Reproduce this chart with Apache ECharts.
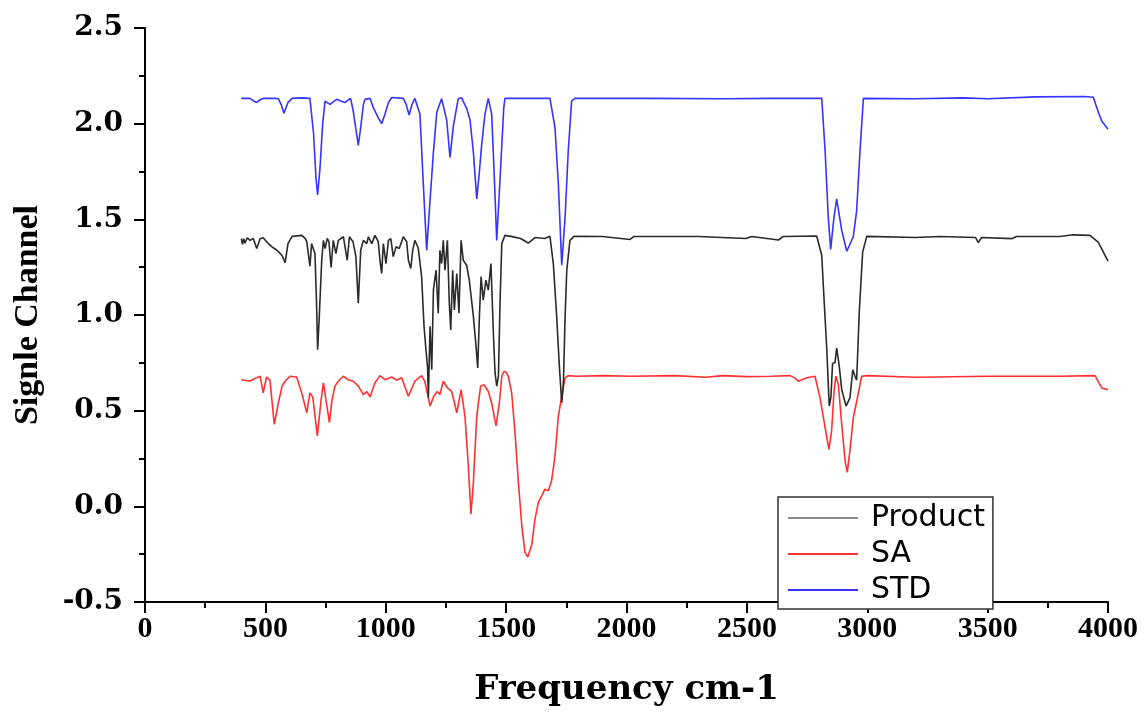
<!DOCTYPE html>
<html>
<head>
<meta charset="utf-8">
<script src="https://cdn.jsdelivr.net/npm/echarts@6/dist/echarts.min.js"></script>
<style>html,body{margin:0;padding:0;background:#fff;}#c{width:1145px;height:712px;}</style>
</head>
<body>
<div id="c"></div>
<script>
const seriesNames = ['Product', 'SA', 'STD'];

const productData = [[400,1.399],[405,1.37],[410,1.399],[415,1.375],[425,1.404],[436,1.39],[450,1.40],[464,1.347],[478,1.399],[491,1.404],[505,1.383],[526,1.357],[540,1.345],[554,1.331],[570,1.31],[582,1.274],[594,1.373],[611,1.411],[651,1.416],[665,1.40],[672,1.383],[685,1.255],[692,1.373],[697,1.38],[706,1.321],[713,1.04],[717,0.818],[720,0.82],[724,0.993],[734,1.286],[741,1.39],[748,1.347],[757,1.40],[764,1.383],[773,1.248],[782,1.39],[793,1.321],[803,1.39],[824,1.409],[840,1.286],[849,1.409],[864,1.383],[876,1.305],[886,1.061],[896,1.338],[907,1.39],[921,1.373],[928,1.409],[942,1.373],[955,1.416],[969,1.383],[976,1.286],[983,1.217],[990,1.373],[1001,1.269],[1011,1.39],[1021,1.399],[1031,1.305],[1043,1.357],[1056,1.347],[1073,1.409],[1087,1.383],[1094,1.286],[1104,1.243],[1112,1.338],[1121,1.39],[1135,1.35],[1149,1.201],[1159,0.941],[1167,0.818],[1174,0.723],[1177,0.567],[1184,0.941],[1191,0.714],[1198,1.13],[1209,1.234],[1218,1.009],[1225,1.338],[1232,1.269],[1239,1.39],[1246,1.234],[1256,1.39],[1264,1.061],[1270,0.922],[1278,1.234],[1285,1.026],[1295,1.217],[1304,1.009],[1313,1.39],[1322,1.286],[1336,1.26],[1347,1.182],[1364,0.993],[1375,0.836],[1382,0.723],[1389,0.993],[1396,1.201],[1405,1.078],[1416,1.182],[1426,1.13],[1437,1.269],[1447,0.905],[1454,0.697],[1461,0.628],[1468,0.68],[1475,1.078],[1482,1.373],[1495,1.416],[1520,1.411],[1560,1.40],[1592,1.376],[1620,1.405],[1660,1.40],[1682,1.411],[1696,1.269],[1710,0.993],[1721,0.733],[1731,0.541],[1738,0.645],[1745,0.993],[1752,1.234],[1765,1.39],[1782,1.411],[1900,1.41],[2015,1.395],[2030,1.41],[2300,1.41],[2496,1.40],[2520,1.41],[2631,1.392],[2650,1.41],[2790,1.413],[2811,1.312],[2817,1.165],[2832,0.818],[2842,0.524],[2849,0.57],[2856,0.748],[2866,0.75],[2873,0.827],[2883,0.74],[2894,0.61],[2912,0.524],[2928,0.567],[2940,0.714],[2949,0.68],[2956,0.66],[2967,1.018],[2981,1.33],[2998,1.411],[3200,1.405],[3300,1.41],[3450,1.405],[3461,1.378],[3475,1.405],[3600,1.399],[3620,1.41],[3800,1.41],[3855,1.419],[3925,1.416],[3960,1.38],[4000,1.281]];

const saData = [[400,0.662],[436,0.655],[460,0.67],[478,0.680],[491,0.593],[505,0.676],[519,0.66],[537,0.428],[554,0.541],[570,0.63],[582,0.654],[602,0.680],[630,0.676],[651,0.593],[672,0.489],[685,0.593],[697,0.57],[716,0.368],[730,0.541],[741,0.645],[748,0.65],[766,0.437],[776,0.55],[789,0.628],[803,0.654],[824,0.680],[844,0.662],[865,0.654],[886,0.628],[907,0.584],[921,0.60],[935,0.572],[955,0.645],[976,0.683],[997,0.662],[1025,0.676],[1045,0.66],[1066,0.672],[1094,0.576],[1121,0.654],[1149,0.683],[1163,0.65],[1184,0.524],[1200,0.576],[1214,0.60],[1225,0.584],[1239,0.654],[1256,0.62],[1274,0.60],[1295,0.489],[1313,0.610],[1329,0.472],[1343,0.212],[1354,-0.040],[1364,0.125],[1378,0.472],[1394,0.628],[1408,0.636],[1426,0.60],[1440,0.54],[1458,0.42],[1472,0.54],[1482,0.680],[1491,0.706],[1500,0.70],[1509,0.680],[1523,0.593],[1537,0.385],[1551,0.125],[1565,-0.10],[1578,-0.239],[1590,-0.265],[1606,-0.204],[1620,-0.066],[1634,0.021],[1648,0.056],[1661,0.09],[1675,0.082],[1689,0.134],[1703,0.264],[1717,0.472],[1731,0.576],[1745,0.671],[1758,0.683],[1793,0.68],[1900,0.683],[2020,0.68],[2200,0.683],[2330,0.675],[2400,0.683],[2500,0.678],[2600,0.68],[2679,0.683],[2700,0.67],[2714,0.654],[2749,0.672],[2783,0.68],[2804,0.567],[2825,0.411],[2841,0.298],[2852,0.394],[2862,0.602],[2870,0.680],[2880,0.636],[2894,0.428],[2908,0.238],[2917,0.177],[2928,0.290],[2942,0.463],[2959,0.567],[2977,0.680],[2998,0.683],[3200,0.675],[3500,0.68],[3800,0.68],[3946,0.683],[3974,0.619],[4000,0.61]];

const stdData = [[400,2.132],[436,2.132],[450,2.12],[464,2.111],[478,2.125],[491,2.132],[540,2.132],[554,2.13],[566,2.10],[577,2.054],[594,2.111],[611,2.132],[650,2.135],[685,2.132],[700,1.95],[710,1.72],[717,1.627],[727,1.77],[738,2.0],[748,2.118],[768,2.101],[796,2.127],[810,2.12],[831,2.111],[854,2.132],[865,2.066],[879,1.945],[886,1.887],[896,1.98],[907,2.10],[914,2.127],[935,2.132],[948,2.085],[969,2.03],[983,2.0],[997,2.05],[1011,2.11],[1025,2.137],[1073,2.132],[1085,2.10],[1097,2.045],[1109,2.10],[1121,2.132],[1142,2.05],[1156,1.685],[1170,1.338],[1184,1.6],[1198,1.85],[1212,2.06],[1232,2.13],[1239,2.132],[1253,2.02],[1267,1.823],[1281,1.99],[1301,2.13],[1315,2.135],[1336,2.08],[1350,2.02],[1364,1.85],[1378,1.607],[1389,1.75],[1398,1.884],[1412,2.05],[1426,2.132],[1440,2.05],[1450,1.75],[1461,1.39],[1470,1.6],[1482,1.884],[1490,2.08],[1495,2.132],[1682,2.132],[1696,2.03],[1703,1.98],[1717,1.685],[1731,1.26],[1745,1.513],[1758,1.856],[1772,2.118],[1786,2.132],[2100,2.132],[2400,2.13],[2600,2.132],[2811,2.132],[2825,1.858],[2838,1.513],[2848,1.343],[2862,1.513],[2873,1.607],[2894,1.442],[2915,1.333],[2942,1.409],[2956,1.546],[2970,1.858],[2984,2.132],[3200,2.13],[3400,2.135],[3500,2.13],[3700,2.14],[3900,2.142],[3939,2.138],[3960,2.06],[3974,2.014],[4000,1.971]];

const xRange = [0, 4000, 500];
const yRange = [-0.5, 2.5, 0.5];
const lineColors = ['#2a2a2a', '#ff3030', '#3434ff'];
const legendColors = ['#8a8a8a', '#ff3030', '#3434ff'];

const chart = echarts.init(document.getElementById('c'), null, {renderer: 'canvas'});
const axisCommon = {
  axisTick: {show: true, inside: false, length: 11, lineStyle: {color: '#000', width: 2}},
  minorTick: {show: true, splitNumber: 2, length: 6, lineStyle: {color: '#000', width: 2}},
  splitLine: {show: false},
  minorSplitLine: {show: false}
};
const dataSets = [productData, saData, stdData];
chart.setOption({
  animation: false,
  backgroundColor: '#fff',
  grid: {left: 145, right: 37, top: 28, bottom: 107, containLabel: false},
  xAxis: Object.assign({
    type: 'value', min: xRange[0], max: xRange[1], interval: xRange[2],
    name: 'Frequency cm-1', nameLocation: 'middle', nameGap: 71,
    nameTextStyle: {fontFamily: 'DejaVu Serif', fontWeight: 'bold', fontSize: 34, color: '#000'},
    axisLine: {show: true, onZero: false, lineStyle: {color: '#000', width: 2}},
    axisLabel: {margin: 12, fontFamily: 'Liberation Serif', fontWeight: 'bold', fontSize: 30, color: '#000',
      formatter: v => String(v)}
  }, axisCommon),
  yAxis: Object.assign({
    type: 'value', min: yRange[0], max: yRange[1], interval: yRange[2],
    name: 'Signle Channel', nameLocation: 'middle', nameGap: 100, nameRotate: 90,
    nameTextStyle: {fontFamily: 'Liberation Serif', fontWeight: 'bold', fontSize: 34, color: '#000'},
    axisLine: {show: true, lineStyle: {color: '#000', width: 2}},
    axisLabel: {margin: 22, fontFamily: 'DejaVu Serif', fontWeight: 'bold', fontSize: 28, color: '#000',
      formatter: v => v.toFixed(1)}
  }, axisCommon),
  legend: {
    orient: 'vertical', left: 778, top: 497,
    padding: [6, 8, 4, 10], itemGap: 6, itemWidth: 70, itemHeight: 2,
    borderColor: '#333', borderWidth: 1.5, backgroundColor: '#fff',
    icon: 'rect',
    textStyle: {fontFamily: 'DejaVu Sans', fontSize: 30, lineHeight: 28, color: '#000', padding: [0, 0, 0, 8]},
    data: seriesNames.map((n, i) => ({name: n, itemStyle: {color: legendColors[i]}}))
  },
  series: seriesNames.map((n, i) => ({
    name: n, type: 'line', data: dataSets[i], showSymbol: false, symbol: 'none',
    lineStyle: {color: lineColors[i], width: 1.6}, itemStyle: {color: lineColors[i]},
    z: 3 - i
  }))
});
</script>
</body>
</html>
